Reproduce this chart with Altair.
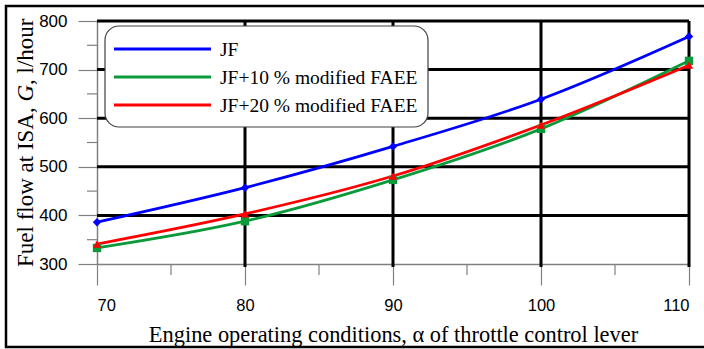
import altair as alt
import pandas as pd

# Throttle lever position (alpha, %)
alpha = [70, 80, 90, 100, 110]

# Fuel flow at ISA, G, l/hour
jf = [386, 457, 542, 639, 768]
jf_10 = [333, 388, 473, 578, 718]
jf_20 = [341, 403, 481, 586, 709]

series_names = ["JF", "JF+10 % modified FAEE", "JF+20 % modified FAEE"]
series_colors = ["#0000FF", "#0A9A3A", "#FF0000"]
series_shapes = ["diamond", "square", "triangle-up"]

x_major = [70, 80, 90, 100, 110]
x_minor = [75, 85, 95, 105]
y_major = [300, 400, 500, 600, 700, 800]
y_minor = [350, 450, 550, 650, 750]
x_grid = [80, 90, 100, 110]
y_grid = [400, 500, 600, 700, 800]

W, H = 592, 243

rows = []
for name, vals in zip(series_names, [jf, jf_10, jf_20]):
    for a, g in zip(alpha, vals):
        rows.append({"alpha": a, "G": g, "series": name})
df = pd.DataFrame(rows)

xscale = alt.Scale(domain=[70, 110], nice=False, zero=False)
yscale = alt.Scale(domain=[300, 800], nice=False, zero=False)

x_axis = alt.Axis(
    values=x_major, tickSize=21, tickColor="#808080", tickWidth=1.2,
    domainColor="#808080", domainWidth=1.5, grid=False,
    labelFont="Liberation Sans", labelFontSize=16.5, labelColor="black",
    labelPadding=12, labelAngle=0,
    title="Engine operating conditions, \u03b1 of throttle control lever",
    titleFont="Liberation Serif", titleFontSize=22.4, titleFontWeight="normal",
    titleColor="black", titleBaseline="alphabetic", titleY=77,
)
y_axis = alt.Axis(
    values=y_major, tickSize=19, tickColor="#808080", tickWidth=1.2,
    domainColor="#808080", domainWidth=1.5, grid=False,
    labelFont="Liberation Sans", labelFontSize=17, labelColor="black",
    labelPadding=11, title="",
)


def xenc(field):
    return alt.X(f"{field}:Q", scale=xscale, axis=x_axis)


def yenc(field):
    return alt.Y(f"{field}:Q", scale=yscale, axis=y_axis)


# outer frame around the figure
frame = alt.Chart(pd.DataFrame({"k": [0]})).mark_rect(
    fill=None, stroke="black", strokeWidth=2.5
).encode(x=alt.value(-91), x2=alt.value(W + 30), y=alt.value(-15), y2=alt.value(326))

vgrid = alt.Chart(pd.DataFrame({"v": x_grid})).mark_rule(
    color="black", strokeWidth=3
).encode(x=xenc("v"), y=alt.value(0), y2=alt.value(H + 3))

hgrid = alt.Chart(pd.DataFrame({"v": y_grid})).mark_rule(
    color="black", strokeWidth=3
).encode(y=yenc("v"), x=alt.value(0), x2=alt.value(W))

xminor = alt.Chart(pd.DataFrame({"v": x_minor})).mark_rule(
    color="#808080", strokeWidth=1.2
).encode(x=xenc("v"), y=alt.value(H), y2=alt.value(H + 11))

yminor = alt.Chart(pd.DataFrame({"v": y_minor})).mark_rule(
    color="#808080", strokeWidth=1.2
).encode(y=yenc("v"), x=alt.value(0), x2=alt.value(-10))

color = alt.Color("series:N", scale=alt.Scale(domain=series_names, range=series_colors), legend=None)
shape = alt.Shape("series:N", scale=alt.Scale(domain=series_names, range=series_shapes), legend=None)

lines = alt.Chart(df).mark_line(strokeWidth=2.8, interpolate="monotone").encode(
    x=xenc("alpha"), y=yenc("G"), color=color, detail="series:N"
)
points = alt.Chart(df).mark_point(filled=True, size=70, opacity=1).encode(
    x=xenc("alpha"), y=yenc("G"), color=color, shape=shape
)

# legend box with rounded corners
legend_box = alt.Chart(pd.DataFrame({"k": [0]})).mark_rect(
    fill="white", stroke="#404040", strokeWidth=1.2, cornerRadius=14
).encode(x=alt.value(8), x2=alt.value(331), y=alt.value(5), y2=alt.value(106))

legend_layers = []
for i, (name, col) in enumerate(zip(series_names, series_colors)):
    ly = 28 + 28 * i
    one = pd.DataFrame({"series": [name]})
    legend_layers.append(
        alt.Chart(one).mark_rule(color=col, strokeWidth=3).encode(
            x=alt.value(17), x2=alt.value(114), y=alt.value(ly)
        )
    )
    legend_layers.append(
        alt.Chart(one).mark_text(
            align="left", baseline="middle", font="Liberation Serif", fontSize=19.5, color="black"
        ).encode(text="series:N", x=alt.value(123), y=alt.value(ly + 1))
    )

# y-axis title, with the symbol G in italics
yt_font = 23
yt_x = -64
yt_base = 246
y_title = [
    ("Fuel flow at ISA,", "normal", yt_base),
    ("G", "italic", yt_base - 7.194 * yt_font),
    (", l/hour", "normal", yt_base - (7.194 + 0.722) * yt_font),
]
ytitle_layers = []
for txt, style, pos in y_title:
    ytitle_layers.append(
        alt.Chart(pd.DataFrame({"t": [txt]})).mark_text(
            angle=270, align="left", baseline="alphabetic", font="Liberation Serif",
            fontSize=yt_font, fontStyle=style, color="black"
        ).encode(text="t:N", x=alt.value(yt_x), y=alt.value(pos))
    )

chart = alt.layer(
    frame, vgrid, hgrid, xminor, yminor, lines, points, legend_box,
    *legend_layers, *ytitle_layers
).properties(
    width=W, height=H,
    padding={"left": 97, "top": 21, "right": 15, "bottom": 85},
    autosize=alt.AutoSizeParams(type="none"),
).configure_view(stroke=None).configure(background="white")

chart.save("out.html", embed_options={"renderer": "svg", "actions": False})
